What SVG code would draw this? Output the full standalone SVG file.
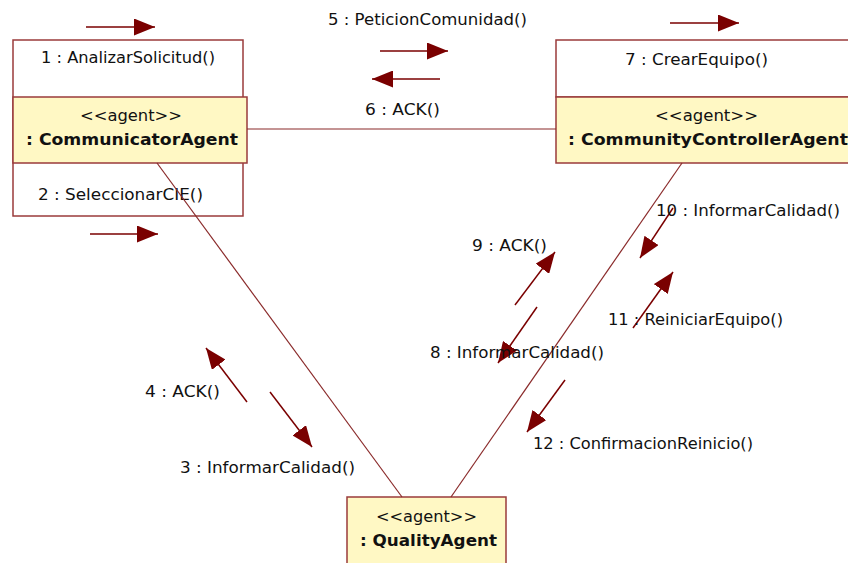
<svg xmlns="http://www.w3.org/2000/svg" width="848" height="563" viewBox="0 0 848 563">
  <defs>
    <marker id="head" markerUnits="userSpaceOnUse" markerWidth="21" markerHeight="17" refX="21" refY="8.5" orient="auto">
      <path d="M0,0 L21,8.5 L0,17 z" fill="#7a0000"/>
    </marker>
    <style>
      .box { fill: #ffffff; stroke: #9a3b3b; stroke-width: 1.5; }
      .obj { fill: #fff8c4; stroke: #9a3b3b; stroke-width: 1.5; }
      .link { stroke: #8a2a2a; stroke-width: 1.2; fill: none; }
      .msg { stroke: #7a0000; stroke-width: 1.5; fill: none; marker-end: url(#head); }
      .t { font-family: "DejaVu Sans", Verdana, sans-serif; font-size: 15px; fill: #111; }
      .b { font-family: "DejaVu Sans", Verdana, sans-serif; font-size: 15px; font-weight: bold; fill: #111; }
    </style>
  </defs>
  <rect width="848" height="563" fill="#ffffff"/>

  <!-- CommunicatorAgent with its self messages -->
  <g id="communicator">
    <rect class="box" x="13" y="40" width="230" height="176"/>
    <rect class="obj" x="13" y="97" width="234" height="66"/>
    <text class="t" x="41" y="63" textLength="174" lengthAdjust="spacingAndGlyphs">1 : AnalizarSolicitud()</text>
    <text class="t" x="80" y="121" textLength="102" lengthAdjust="spacingAndGlyphs">&lt;&lt;agent&gt;&gt;</text>
    <text class="b" x="26" y="145" textLength="212" lengthAdjust="spacingAndGlyphs">: CommunicatorAgent</text>
    <text class="t" x="38" y="200" textLength="165" lengthAdjust="spacingAndGlyphs">2 : SeleccionarCIE()</text>
  </g>

  <!-- CommunityControllerAgent -->
  <g id="controller">
    <rect class="box" x="556" y="40" width="310" height="57"/>
    <rect class="obj" x="556" y="97" width="310" height="66"/>
    <text class="t" x="625" y="65" textLength="143" lengthAdjust="spacingAndGlyphs">7 : CrearEquipo()</text>
    <text class="t" x="655" y="121" textLength="103" lengthAdjust="spacingAndGlyphs">&lt;&lt;agent&gt;&gt;</text>
    <text class="b" x="568" y="145" textLength="280" lengthAdjust="spacingAndGlyphs">: CommunityControllerAgent</text>
  </g>

  <!-- QualityAgent -->
  <g id="quality">
    <rect class="obj" x="347" y="497" width="159" height="80"/>
    <text class="t" x="376" y="522" textLength="101" lengthAdjust="spacingAndGlyphs">&lt;&lt;agent&gt;&gt;</text>
    <text class="b" x="360" y="546" textLength="137" lengthAdjust="spacingAndGlyphs">: QualityAgent</text>
  </g>

  <!-- links between objects, drawn over the compartments -->
  <g id="connectors">
    <line class="link" x1="247" y1="129" x2="556" y2="129"/>
    <line class="link" x1="157" y1="163" x2="402" y2="497"/>
    <line class="link" x1="682" y1="163" x2="451" y2="497"/>
  </g>

  <!-- message arrows -->
  <g id="messages">
    <line class="msg" x1="86" y1="27" x2="155" y2="27"/>
    <line class="msg" x1="90" y1="234" x2="158" y2="234"/>
    <line class="msg" x1="380" y1="51" x2="448" y2="51"/>
    <line class="msg" x1="440" y1="79" x2="372" y2="79"/>
    <line class="msg" x1="670" y1="23" x2="739" y2="23"/>
    <line class="msg" x1="247" y1="402" x2="206" y2="348"/>
    <line class="msg" x1="270" y1="392" x2="312" y2="447"/>
    <line class="msg" x1="515" y1="305" x2="555" y2="252"/>
    <line class="msg" x1="537" y1="307" x2="498" y2="363"/>
    <line class="msg" x1="673" y1="208" x2="640" y2="258"/>
    <line class="msg" x1="633" y1="328" x2="673" y2="272"/>
    <line class="msg" x1="565" y1="380" x2="527" y2="432"/>
  </g>

  <!-- message labels -->
  <g id="labels">
    <text class="t" x="328" y="25" textLength="199" lengthAdjust="spacingAndGlyphs">5 : PeticionComunidad()</text>
    <text class="t" x="365" y="115" textLength="75" lengthAdjust="spacingAndGlyphs">6 : ACK()</text>
    <text class="t" x="472" y="251" textLength="75" lengthAdjust="spacingAndGlyphs">9 : ACK()</text>
    <text class="t" x="656" y="216" textLength="184" lengthAdjust="spacingAndGlyphs">10 : InformarCalidad()</text>
    <text class="t" x="608" y="325" textLength="175" lengthAdjust="spacingAndGlyphs">11 : ReiniciarEquipo()</text>
    <text class="t" x="430" y="358" textLength="174" lengthAdjust="spacingAndGlyphs">8 : InformarCalidad()</text>
    <text class="t" x="145" y="397" textLength="75" lengthAdjust="spacingAndGlyphs">4 : ACK()</text>
    <text class="t" x="180" y="473" textLength="175" lengthAdjust="spacingAndGlyphs">3 : InformarCalidad()</text>
    <text class="t" x="533" y="449" textLength="220" lengthAdjust="spacingAndGlyphs">12 : ConfirmacionReinicio()</text>
  </g>
</svg>
